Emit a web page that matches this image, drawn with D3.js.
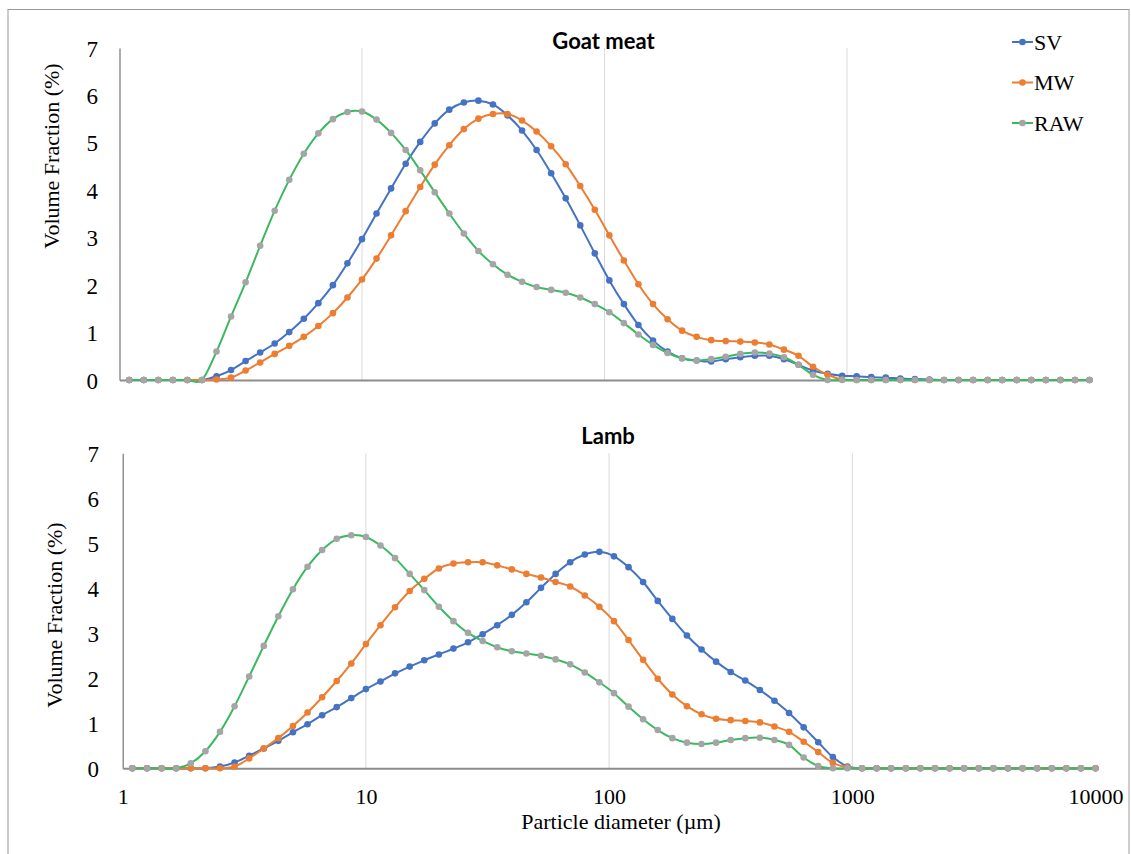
<!DOCTYPE html>
<html>
<head>
<meta charset="utf-8">
<script src="https://cdn.jsdelivr.net/npm/d3@7"></script>
<style>
  html, body { margin: 0; padding: 0; background: #fff; }
  svg { display: block; }
  .serif { font-family: "Liberation Serif", "Times New Roman", "DejaVu Serif", serif; }
  .title { font-family: Lato, "Open Sans", sans-serif; font-weight: bold; }
</style>
</head>
<body>
<svg id="chart" width="1131" height="854"></svg>
<script>
// Particle size bins (µm), log-spaced as reported by the laser diffraction analyser
const diameters = [
  1.096, 1.259, 1.445, 1.660, 1.905, 2.188, 2.512, 2.884, 3.311, 3.802,
  4.365, 5.012, 5.754, 6.607, 7.586, 8.710, 10.00, 11.48, 13.18, 15.14,
  17.38, 19.95, 22.91, 26.30, 30.20, 34.67, 39.81, 45.71, 52.48, 60.26,
  69.18, 79.43, 91.20, 104.7, 120.2, 138.0, 158.5, 182.0, 208.9, 239.9,
  275.4, 316.2, 363.1, 416.9, 478.6, 549.5, 631.0, 724.4, 831.8, 955.0,
  1096, 1259, 1445, 1660, 1905, 2188, 2512, 2884, 3311, 3802,
  4365, 5012, 5754, 6607, 7586, 8710, 10000
];

const seriesNames = ["SV", "MW", "RAW"];
const panelTitles = ["Goat meat", "Lamb"];
const xTickValues = [1, 10, 100, 1000, 10000];
const yTickValues = [0, 1, 2, 3, 4, 5, 6, 7];

// Volume fraction (%) — goat meat
const goatSV = [
  0, 0, 0, 0, 0, 0, 0.08, 0.21, 0.40, 0.58,
  0.77, 1.01, 1.29, 1.62, 2.00, 2.46, 2.97, 3.51, 4.04, 4.56,
  5.02, 5.41, 5.70, 5.85, 5.89, 5.81, 5.58, 5.26, 4.85, 4.36,
  3.83, 3.26, 2.67, 2.10, 1.60, 1.16, 0.83, 0.60, 0.46, 0.41,
  0.39, 0.44, 0.48, 0.51, 0.51, 0.44, 0.32, 0.20, 0.13, 0.09,
  0.08, 0.06, 0.05, 0.03, 0.02, 0.01, 0, 0, 0, 0,
  0, 0, 0, 0, 0, 0, 0
];
const goatMW = [
  0, 0, 0, 0, 0, 0, 0.01, 0.05, 0.20, 0.37,
  0.55, 0.72, 0.91, 1.14, 1.41, 1.74, 2.12, 2.56, 3.05, 3.56,
  4.07, 4.54, 4.95, 5.29, 5.51, 5.61, 5.61, 5.47, 5.24, 4.93,
  4.55, 4.09, 3.59, 3.05, 2.52, 2.02, 1.60, 1.28, 1.04, 0.91,
  0.84, 0.82, 0.81, 0.79, 0.75, 0.64, 0.51, 0.28, 0.11, 0.01,
  0, 0, 0, 0, 0, 0, 0, 0, 0, 0,
  0, 0, 0, 0, 0, 0, 0
];
const goatRAW = [
  0, 0, 0, 0, 0, 0, 0.60, 1.34, 2.06, 2.83,
  3.57, 4.22, 4.77, 5.20, 5.50, 5.65, 5.66, 5.49, 5.21, 4.85,
  4.42, 3.96, 3.51, 3.09, 2.72, 2.44, 2.22, 2.07, 1.96, 1.90,
  1.84, 1.74, 1.60, 1.43, 1.20, 0.96, 0.74, 0.57, 0.46, 0.41,
  0.44, 0.49, 0.55, 0.58, 0.56, 0.48, 0.32, 0.11, 0, 0,
  0, 0, 0, 0, 0, 0, 0, 0, 0, 0,
  0, 0, 0, 0, 0, 0, 0
];

// Volume fraction (%) — lamb
const lambSV = [
  0, 0, 0, 0, 0, 0, 0.04, 0.13, 0.28, 0.44,
  0.61, 0.80, 0.98, 1.18, 1.36, 1.56, 1.76, 1.93, 2.11, 2.26,
  2.40, 2.53, 2.66, 2.80, 2.98, 3.18, 3.41, 3.69, 4.01, 4.32,
  4.58, 4.75, 4.81, 4.71, 4.47, 4.14, 3.72, 3.32, 2.95, 2.64,
  2.37, 2.14, 1.95, 1.74, 1.50, 1.23, 0.91, 0.58, 0.25, 0.04,
  0, 0, 0, 0, 0, 0, 0, 0, 0, 0,
  0, 0, 0, 0, 0, 0, 0
];
const lambMW = [
  0, 0, 0, 0, 0, 0, 0, 0.04, 0.22, 0.44,
  0.67, 0.94, 1.24, 1.58, 1.94, 2.33, 2.76, 3.18, 3.58, 3.94,
  4.21, 4.44, 4.55, 4.58, 4.58, 4.51, 4.42, 4.32, 4.24, 4.14,
  4.04, 3.84, 3.59, 3.27, 2.85, 2.41, 1.99, 1.64, 1.38, 1.20,
  1.10, 1.07, 1.05, 1.02, 0.93, 0.81, 0.59, 0.36, 0.12, 0.02,
  0, 0, 0, 0, 0, 0, 0, 0, 0, 0,
  0, 0, 0, 0, 0, 0, 0
];
const lambRAW = [
  0, 0, 0, 0, 0.11, 0.38, 0.81, 1.38, 2.04, 2.72,
  3.38, 3.98, 4.48, 4.85, 5.10, 5.18, 5.14, 4.95, 4.67, 4.32,
  3.96, 3.59, 3.27, 3.01, 2.83, 2.69, 2.60, 2.55, 2.50, 2.42,
  2.31, 2.13, 1.91, 1.67, 1.37, 1.09, 0.85, 0.67, 0.57, 0.54,
  0.57, 0.63, 0.67, 0.68, 0.63, 0.52, 0.24, 0.05, 0, 0,
  0, 0, 0, 0, 0, 0, 0, 0, 0, 0,
  0, 0, 0, 0, 0, 0, 0
];

const panelSeries = [
  [goatSV, goatMW, goatRAW],
  [lambSV, lambMW, lambRAW]
];

// Drawing styles
const lineColors = { SV: "#4472C4", MW: "#ED7D31", RAW: "#3DB860" };
const markerColors = { SV: "#4472C4", MW: "#ED7D31", RAW: "#A5A5A5" };

const svg = d3.select("#chart");

// outer frame
svg.append("rect")
  .attr("x", 8).attr("y", 9.5)
  .attr("width", 1121).attr("height", 860)
  .attr("fill", "none").attr("stroke", "#9a9a9a").attr("stroke-width", 1);

const panels = [
  { left: 119.5, right: 1089.5, top: 48, bottom: 380, titleY: 49, yTitleX: 59, yTitleY: 156, showXLabels: false },
  { left: 122.7, right: 1095.5, top: 453.3, bottom: 768.3, titleY: 444, yTitleX: 62, yTitleY: 615, showXLabels: true }
];

panels.forEach((p, pi) => {
  const x = d3.scaleLog().domain([1, 10000]).range([p.left, p.right]);
  const y = d3.scaleLinear().domain([0, 7]).range([p.bottom, p.top]);
  const g = svg.append("g");

  // vertical gridlines at decades
  g.append("g").selectAll("line")
    .data(xTickValues.slice(1, -1))
    .join("line")
    .attr("x1", d => x(d)).attr("x2", d => x(d))
    .attr("y1", y(7)).attr("y2", y(0))
    .attr("stroke", "#d9d9d9").attr("stroke-width", 1);

  // y axis
  const yAxis = d3.axisLeft(y).tickValues(yTickValues)
    .tickFormat(d3.format("d")).tickSize(0).tickPadding(0);
  const ya = g.append("g").attr("transform", `translate(${p.left},0)`).call(yAxis);
  ya.attr("font-family", null).attr("font-size", null);
  ya.select(".domain").attr("stroke", "#7f7f7f").attr("stroke-width", 1.3);
  ya.selectAll("text")
    .attr("class", "serif")
    .attr("x", 98 - p.left + pi)
    .attr("dy", "0.35em")
    .style("font-size", "23px").attr("fill", "#000")
    .attr("text-anchor", "end");

  // x axis
  const xAxis = d3.axisBottom(x).tickValues(xTickValues)
    .tickFormat(d => p.showXLabels ? d3.format("d")(d) : "")
    .tickSize(0).tickPadding(21);
  const xa = g.append("g").attr("transform", `translate(0,${p.bottom})`).call(xAxis);
  xa.attr("font-family", null).attr("font-size", null);
  xa.select(".domain").attr("stroke", "#8c8c8c").attr("stroke-width", 2);
  xa.selectAll("text")
    .attr("class", "serif")
    .attr("dy", null)
    .attr("y", 35.5)
    .style("font-size", "22px").attr("fill", "#000");

  // y axis title
  g.append("text")
    .attr("class", "serif")
    .attr("transform", `translate(${p.yTitleX},${p.yTitleY}) rotate(-90)`)
    .attr("text-anchor", "middle")
    .style("font-size", "22px")
    .text("Volume Fraction (%)");

  // panel title
  g.append("text")
    .attr("class", "title")
    .attr("x", (p.left + p.right) / 2 - 1).attr("y", p.titleY)
    .attr("text-anchor", "middle")
    .style("font-size", "22px")
    .text(panelTitles[pi]);

  const line = d3.line()
    .x((d, i) => x(diameters[i]))
    .y(d => y(d))
    .curve(d3.curveCatmullRom.alpha(0));

  panelSeries[pi].forEach((vals, si) => {
    const name = seriesNames[si];
    g.append("path")
      .datum(vals)
      .attr("d", line)
      .attr("fill", "none")
      .attr("stroke", lineColors[name])
      .attr("stroke-width", 2);
    g.append("g").selectAll("circle")
      .data(vals)
      .join("circle")
      .attr("cx", (d, i) => x(diameters[i]))
      .attr("cy", d => y(d))
      .attr("r", 3.3)
      .attr("fill", markerColors[name]);
  });

  if (p.showXLabels) {
    g.append("text")
      .attr("class", "serif")
      .attr("x", 621).attr("y", 829)
      .attr("text-anchor", "middle")
      .style("font-size", "22px")
      .text("Particle diameter (µm)");
  }
});

// legend
const legend = svg.append("g");
seriesNames.forEach((name, i) => {
  const ly = 42 + i * 40.5;
  legend.append("line")
    .attr("x1", 1012).attr("x2", 1033)
    .attr("y1", ly).attr("y2", ly)
    .attr("stroke", lineColors[name]).attr("stroke-width", 2);
  legend.append("circle")
    .attr("cx", 1022.5).attr("cy", ly).attr("r", 3.3)
    .attr("fill", markerColors[name]);
  legend.append("text")
    .attr("class", "serif")
    .attr("x", 1034).attr("y", ly).attr("dy", "0.35em")
    .style("font-size", "22px")
    .text(name);
});
</script>
</body>
</html>
